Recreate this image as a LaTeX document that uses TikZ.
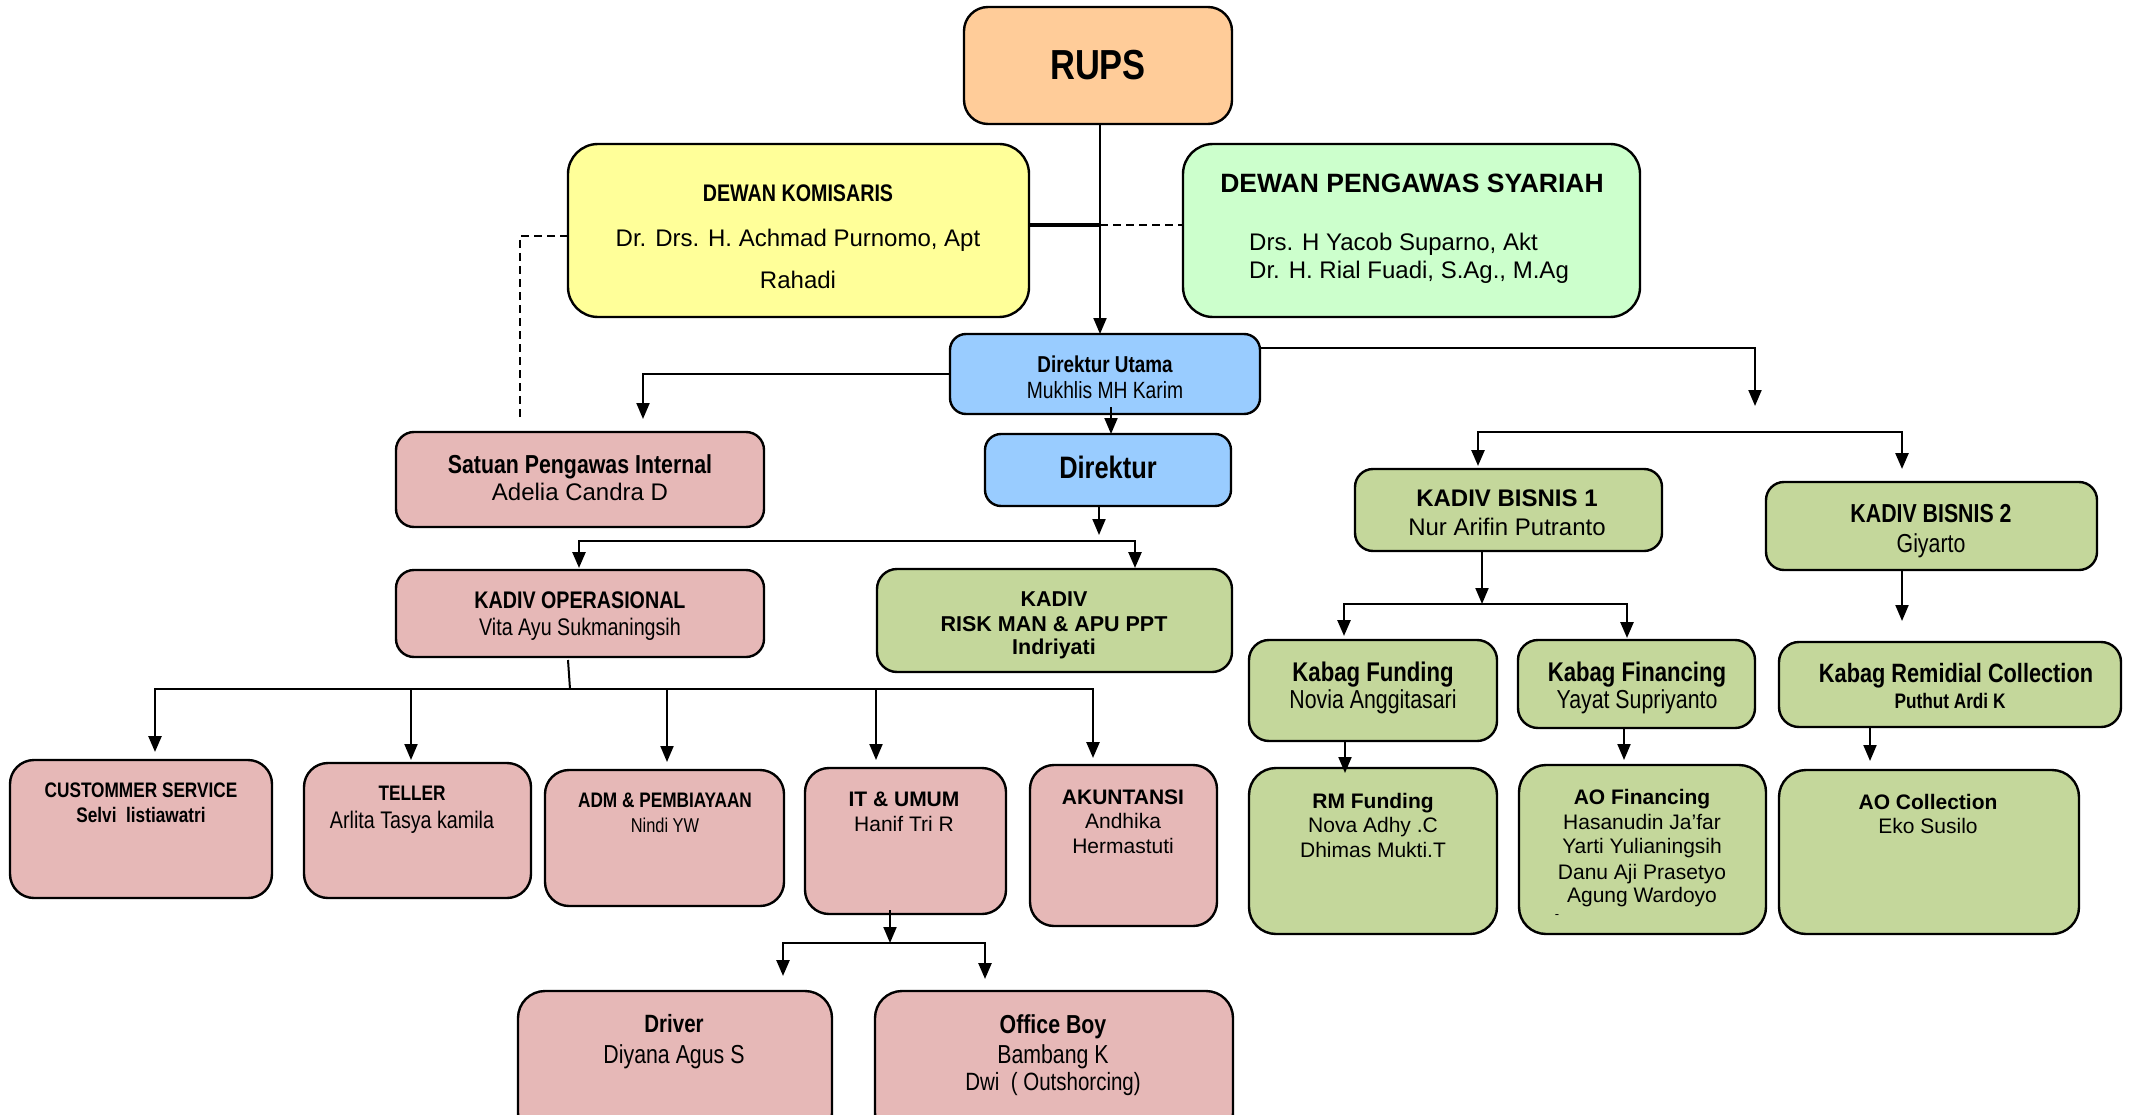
\documentclass[tikz,border=0pt]{standalone}
\usepackage{fontspec}
\setmainfont{Liberation Sans}
\newfontfamily\nr[FakeStretch=0.82]{Liberation Sans}
\usetikzlibrary{arrows.meta}
\definecolor{cRups}{HTML}{FFCC99}
\definecolor{cDK}{HTML}{FFFF99}
\definecolor{cDPS}{HTML}{CCFFCC}
\definecolor{cBlue}{HTML}{99CCFF}
\definecolor{cPink}{HTML}{E6B8B7}
\definecolor{cOlive}{HTML}{C4D79B}
\newcommand\setfs[1]{\fontsize{#1}{#1}\selectfont}
\newcommand\bx[6]{\node[box,#6,minimum width={#4-#2},minimum height={#5-#3}] (#1) at ({(#2+#4)/2},{(#3+#5)/2}) {};}
\newcommand\tl[5]{\node[anchor=base,inner sep=0pt,font=#4] (#1) at (#2,#3) {#5};}
\begin{document}
\begin{tikzpicture}[x=1pt,y=-1pt,
  box/.style={draw, line width=2.4pt, rounded corners=24pt, inner sep=0pt, outer sep=0pt},
  pk/.style={fill=cPink}, ol/.style={fill=cOlive}, bl/.style={fill=cBlue},
  conn/.style={line width=2pt, -{Triangle[length=16pt,width=13pt]}},
  ln/.style={line width=2pt},
  dsh/.style={line width=2pt, dash pattern=on 8pt off 5pt}]
\useasboundingbox (0,0) rectangle (2132,1115);
\clip (0,0) rectangle (2132,1115);
\fill[white] (0,0) rectangle (2132,1115);
% boxes
\bx{rups}{964}{7}{1232}{124}{fill=cRups}
\bx{dk}{568}{144}{1029}{317}{fill=cDK, rounded corners=30pt}
\bx{dps}{1183}{144}{1640}{317}{fill=cDPS, rounded corners=30pt}
\bx{du}{950}{334}{1260}{414}{bl, rounded corners=16pt}
\bx{spi}{396}{432}{764}{527}{pk, rounded corners=18pt}
\bx{dir}{985}{434}{1231}{506}{bl, rounded corners=16pt}
\bx{ko}{396}{570}{764}{657}{pk, rounded corners=18pt}
\bx{risk}{877}{569}{1232}{672}{ol, rounded corners=20pt}
\bx{cs}{10}{760}{272}{898}{pk}
\bx{teller}{304}{763}{531}{898}{pk}
\bx{adm}{545}{770}{784}{906}{pk}
\bx{it}{805}{768}{1006}{914}{pk}
\bx{ak}{1030}{765}{1217}{926}{pk}
\bx{driver}{518}{991}{832}{1140}{pk, rounded corners=27pt}
\bx{ob}{875}{991}{1233}{1140}{pk, rounded corners=27pt}
\bx{kb1}{1355}{469}{1662}{551}{ol, rounded corners=18pt}
\bx{kb2}{1766}{482}{2097}{570}{ol, rounded corners=18pt}
\bx{kf}{1249}{640}{1497}{741}{ol, rounded corners=20pt}
\bx{kfin}{1518}{640}{1755}{728}{ol, rounded corners=20pt}
\bx{kr}{1779}{642}{2121}{727}{ol, rounded corners=20pt}
\bx{rm}{1249}{768}{1497}{934}{ol, rounded corners=27pt}
\bx{aof}{1519}{765}{1766}{934}{ol, rounded corners=27pt}
\bx{aoc}{1779}{770}{2079}{934}{ol, rounded corners=27pt}
% texts
\tl{rupsT}{1098}{80}{\nr\bfseries\setfs{42}}{RUPS}
\tl{dkT1}{798}{201.6}{\nr\bfseries\setfs{24}}{DEWAN KOMISARIS}
\tl{dkT2}{798}{246.6}{\setfs{24}}{Dr. Drs. H. Achmad Purnomo, Apt}
\tl{dkT3}{798}{288.6}{\setfs{24}}{Rahadi}
\tl{dpsT1}{1412}{192.5}{\bfseries\setfs{26.5}}{DEWAN PENGAWAS SYARIAH}
\node[anchor=base west,inner sep=0pt,font=\setfs{24}] (dpsT2) at (1249,250.3) {Drs. H Yacob Suparno, Akt};
\node[anchor=base west,inner sep=0pt,font=\setfs{24}] (dpsT3) at (1249,278.6) {Dr. H. Rial Fuadi, S.Ag., M.Ag};
\tl{duT1}{1105}{372}{\nr\bfseries\setfs{23}}{Direktur Utama}
\tl{duT2}{1105}{398.7}{\nr\setfs{23.5}}{Mukhlis MH Karim}
\tl{spiT1}{580}{473}{\nr\bfseries\setfs{26}}{Satuan Pengawas Internal}
\tl{spiT2}{580}{500.6}{\setfs{24}}{Adelia Candra D}
\tl{dirT}{1108}{478.6}{\nr\bfseries\setfs{31}}{Direktur}
\tl{koT1}{580}{608}{\nr\bfseries\setfs{24}}{KADIV OPERASIONAL}
\tl{koT2}{580}{635.3}{\nr\setfs{24}}{Vita Ayu Sukmaningsih}
\tl{rkT1}{1054}{606}{\bfseries\setfs{21.5}}{KADIV}
\tl{rkT2}{1054}{631.5}{\bfseries\setfs{21.5}}{RISK MAN \& APU PPT}
\tl{rkT3}{1054}{654.4}{\bfseries\setfs{21.5}}{Indriyati}
\tl{csT1}{141}{797.8}{\nr\bfseries\setfs{21}}{CUSTOMMER SERVICE}
\tl{csT2}{141}{822}{\nr\bfseries\setfs{21}}{Selvi\ \ listiawatri}
\tl{teT1}{412}{800.8}{\nr\bfseries\setfs{21}}{TELLER}
\tl{teT2}{412}{828.3}{\nr\setfs{24}}{Arlita Tasya kamila}
\tl{adT1}{665}{807.2}{\nr\bfseries\setfs{21}}{ADM \& PEMBIAYAAN}
\tl{adT2}{665}{832.2}{\nr\setfs{20}}{Nindi YW}
\tl{itT1}{904}{806.7}{\bfseries\setfs{21}}{IT \& UMUM}
\tl{itT2}{904}{831.3}{\setfs{21}}{Hanif Tri R}
\tl{akT1}{1123}{804.2}{\bfseries\setfs{21}}{AKUNTANSI}
\tl{akT2}{1123}{828.3}{\setfs{21}}{Andhika}
\tl{akT3}{1123}{853.3}{\setfs{21}}{Hermastuti}
\tl{drT1}{674}{1032.8}{\nr\bfseries\setfs{25}}{Driver}
\tl{drT2}{674}{1063.5}{\nr\setfs{26}}{Diyana Agus S}
\tl{obT1}{1053}{1033.5}{\nr\bfseries\setfs{26}}{Office Boy}
\tl{obT2}{1053}{1063.5}{\nr\setfs{26}}{Bambang K}
\tl{obT3}{1053}{1090.7}{\nr\setfs{25}}{Dwi\ \ ( Outshorcing)}
\tl{kb1T1}{1507}{506.6}{\bfseries\setfs{24}}{KADIV BISNIS 1}
\tl{kb1T2}{1507}{535.3}{\setfs{24}}{Nur Arifin Putranto}
\tl{kb2T1}{1931}{522.1}{\nr\bfseries\setfs{26}}{KADIV BISNIS 2}
\tl{kb2T2}{1931}{552.7}{\nr\setfs{26}}{Giyarto}
\tl{kfT1}{1373}{681.7}{\nr\bfseries\setfs{27}}{Kabag Funding}
\tl{kfT2}{1373}{708.7}{\nr\setfs{26}}{Novia Anggitasari}
\tl{kfiT1}{1637}{681.7}{\nr\bfseries\setfs{27}}{Kabag Financing}
\tl{kfiT2}{1637}{708}{\nr\setfs{26}}{Yayat Supriyanto}
\tl{krT1}{1956}{682.8}{\nr\bfseries\setfs{26.5}}{Kabag Remidial Collection}
\tl{krT2}{1950}{708}{\nr\bfseries\setfs{21}}{Puthut Ardi K}
\tl{rmT1}{1373}{808.3}{\bfseries\setfs{21}}{RM Funding}
\tl{rmT2}{1373}{832}{\setfs{21}}{Nova Adhy .C}
\tl{rmT3}{1373}{857}{\setfs{21}}{Dhimas Mukti.T}
\tl{aofT1}{1642}{804.2}{\bfseries\setfs{21}}{AO Financing}
\tl{aofT2}{1642}{829.3}{\setfs{21}}{Hasanudin Ja’far}
\tl{aofT3}{1642}{853.8}{\setfs{21}}{Yarti Yulianingsih}
\tl{aofT4}{1642}{879.3}{\setfs{21}}{Danu Aji Prasetyo}
\tl{aofT5}{1642}{902.8}{\setfs{21}}{Agung Wardoyo}
\tl{aofT6}{1557}{918}{\setfs{13}}{-}
\tl{aocT1}{1928}{809.3}{\bfseries\setfs{21}}{AO Collection}
\tl{aocT2}{1928}{833.5}{\setfs{21}}{Eko Susilo}
% connectors
\coordinate (dkj) at (1100,225);
\draw[conn] (rups.south -| dkj) -- (du.north -| dkj);
\draw[line width=4pt] (dk.east |- dkj) -- (dkj);
\draw[dsh] (dkj) -- (dps.west |- dkj);
\draw[dsh] (dk.west |- 0,236) -| ([yshift=14pt]spi.north -| 520,0);
\draw[conn] (du.west |- 0,374) -| ([yshift=13pt]spi.north -| 643,0);
\draw[conn] ([yshift=7pt]du.south -| 1111,0) -- (dir.north -| 1111,0);
\coordinate (dirb) at (1099,535);
\draw[conn] (dir.south -| dirb) -- (dirb);
\coordinate (busA) at (857,541);
\draw[conn, line width=2.6pt] (busA) -| ([yshift=2pt]ko.north -| 579,0);
\draw[conn, line width=2.6pt] (busA) -| ([yshift=1pt]risk.north -| 1135,0);
\coordinate (busB) at (570,689);
\draw[ln] ([yshift=-3pt]ko.south -| 568,0) -- (busB);
\draw[conn, line width=2.6pt] (busB) -| ([yshift=8pt]cs.north -| 155,0);
\draw[conn] (busB) -| ([yshift=3pt]teller.north -| 411,0);
\draw[conn] (busB) -| ([yshift=8pt]adm.north -| 667,0);
\draw[conn] (busB) -| ([yshift=8pt]it.north -| 876,0);
\draw[conn, line width=2.6pt] (busB) -| ([yshift=7pt]ak.north -| 1093,0);
\coordinate (busC) at (890,943);
\draw[conn] ([yshift=4pt]it.south -| busC) -- (busC);
\draw[conn, line width=2.6pt] (busC) -| ([yshift=15pt]driver.north -| 783,0);
\draw[conn, line width=2.6pt] (busC) -| ([yshift=12pt]ob.north -| 985,0);
\coordinate (rtip) at (1755,406);
\draw[conn] (du.east |- 0,348) -| (rtip);
\coordinate (busD) at (1690,432);
\draw[conn, line width=2.6pt] (busD) -| ([yshift=3pt]kb1.north -| 1478,0);
\draw[conn, line width=2.6pt] (busD) -| ([yshift=13pt]kb2.north -| 1902,0);
\coordinate (busE) at (1482,604);
\draw[conn] (kb1.south -| busE) -- (busE);
\draw[conn, line width=2.6pt] (busE) -| ([yshift=4pt]kf.north -| 1344,0);
\draw[conn, line width=2.6pt] (busE) -| ([yshift=2pt]kfin.north -| 1627,0);
\draw[conn] (kb2.south -| 1902,0) -- ([yshift=21pt]kr.north -| 1902,0);
\draw[conn] (kf.south -| 1345,0) -- ([yshift=-5pt]rm.north -| 1345,0);
\draw[conn] (kfin.south -| 1624,0) -- ([yshift=5pt]aof.north -| 1624,0);
\draw[conn] (kr.south -| 1870,0) -- ([yshift=9pt]aoc.north -| 1870,0);
\end{tikzpicture}
\end{document}
